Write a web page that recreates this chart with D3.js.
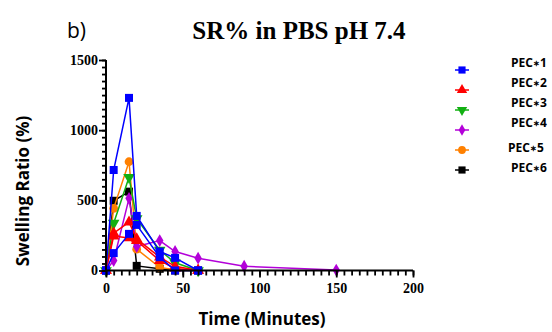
<!DOCTYPE html>
<html>
<head>
<meta charset="utf-8">
<script src="https://cdn.jsdelivr.net/npm/d3@7/dist/d3.min.js"></script>
<style>
  body { margin: 0; background: #fff; }
</style>
</head>
<body>
<div id="chart"></div>
<script>
// time points (minutes)
const tShort = [0, 5, 15, 20, 35, 45, 60];
const tLong = [0, 5, 15, 20, 35, 45, 60, 90, 150];

// swelling ratio (%)
const pec1 = [0, 716, 1230, 389, 135, 90, 0];
const pec1b = [0, 124, 261, 325, 95, 0, 0];
const pec2 = [0, 266, 345, 225, 95, 30, 0];
const pec2b = [0, 245, 232, 212, 70, 15, 0];
const pec3 = [0, 337, 664, 370, 145, 55, 0];
const pec4 = [0, 71, 514, 171, 213, 135, 88, 30, 3];
const pec5 = [0, 443, 775, 152, 22, 5, 0];
const pec6 = [0, 497, 562, 33, 12, 0, 0];

const legendNums = ["1", "2", "3", "4", "5", "6"];
const yTicks = [0, 500, 1000, 1500];
const xTicks = [0, 50, 100, 150, 200];

const width = 552, height = 332;
const svg = d3.select("#chart").append("svg")
    .attr("width", width)
    .attr("height", height);

const x = d3.scaleLinear().domain([0, 200]).range([106, 413]);
const y = d3.scaleLinear().domain([0, 1500]).range([270.5, 60]);

// series, drawn back to front
const styles = {
    blue:   { color: "#0000ff", shape: d3.symbolSquare, size: 64, rot: 0 },
    red:    { color: "#ff0000", shape: d3.symbolTriangle, size: 58, rot: 0 },
    green:  { color: "#12b012", shape: d3.symbolTriangle, size: 58, rot: 180 },
    purple: { color: "#b300d9", shape: d3.symbolDiamond, size: 48, rot: 0 },
    orange: { color: "#ff8000", shape: d3.symbolCircle, size: 60, rot: 0 },
    black:  { color: "#000000", shape: d3.symbolSquare, size: 64, rot: 0 }
};
const series = [
    { t: tShort, v: pec6, s: styles.black },
    { t: tShort, v: pec5, s: styles.orange },
    { t: tLong,  v: pec4, s: styles.purple },
    { t: tShort, v: pec3, s: styles.green },
    { t: tShort, v: pec2b, s: styles.red },
    { t: tShort, v: pec2, s: styles.red },
    { t: tShort, v: pec1b, s: styles.blue },
    { t: tShort, v: pec1, s: styles.blue }
];

const line = d3.line().x(d => x(d[0])).y(d => y(d[1]));

series.forEach(ser => {
    const pts = ser.t.map((t, i) => [t, ser.v[i]]);
    const g = svg.append("g");
    g.append("path")
        .attr("d", line(pts))
        .attr("fill", "none")
        .attr("stroke", ser.s.color)
        .attr("stroke-width", 1.5);
    g.selectAll("path.pt")
        .data(pts)
        .enter()
        .append("path")
        .attr("class", "pt")
        .attr("d", d3.symbol().type(ser.s.shape).size(ser.s.size))
        .attr("transform", d => `translate(${x(d[0])},${y(d[1])}) rotate(${ser.s.rot})`)
        .attr("fill", ser.s.color);
});

// axes
const yAxis = svg.append("g").attr("transform", "translate(106,0)");
yAxis.append("g")
    .call(d3.axisLeft(y).tickValues(d3.range(0, 1501, 50)).tickSize(4).tickFormat(""))
    .call(g => g.select(".domain").remove());
yAxis.append("g")
    .call(d3.axisLeft(y).tickValues(yTicks).tickSize(7).tickPadding(1).tickFormat(d3.format("d")))
    .call(g => g.select(".domain").attr("stroke-width", 2).attr("d", `M0,${y(1500)}V${y(0)}`));
yAxis.selectAll("line").attr("stroke-width", 1.8);

const xAxis = svg.append("g").attr("transform", `translate(0,${y(0)})`);
xAxis.append("g")
    .call(d3.axisBottom(x).tickValues(d3.range(0, 201, 5)).tickSize(5).tickFormat(""))
    .call(g => g.select(".domain").remove());
xAxis.append("g")
    .call(d3.axisBottom(x).tickValues(xTicks).tickSize(7).tickPadding(6).tickFormat(d3.format("d")))
    .call(g => g.select(".domain").attr("stroke-width", 2).attr("d", `M${x(0)},0H${x(200)}`));
xAxis.selectAll("line").attr("stroke-width", 1.8);

svg.selectAll(".tick text")
    .style("font-family", "'Liberation Serif', 'Times New Roman', serif")
    .style("font-weight", "900")
    .style("font-size", "14px")
    .style("fill", "#000");

// titles
svg.append("text")
    .attr("x", 67).attr("y", 38)
    .attr("font-family", "'Open Sans', sans-serif")
    .attr("font-size", 21)
    .text("b)");
svg.append("text")
    .attr("x", 299).attr("y", 39)
    .attr("text-anchor", "middle")
    .attr("font-family", "'Liberation Serif', serif")
    .attr("font-weight", "bold")
    .attr("font-size", 25)
    .text("SR% in PBS pH 7.4");
svg.append("text")
    .attr("x", 262).attr("y", 325)
    .attr("text-anchor", "middle")
    .attr("font-family", "'Open Sans', sans-serif")
    .attr("font-weight", "bold")
    .attr("font-size", 17)
    .text("Time (Minutes)");
svg.append("text")
    .attr("transform", "translate(29,191) rotate(-90)")
    .attr("text-anchor", "middle")
    .attr("font-family", "'Open Sans', sans-serif")
    .attr("font-weight", "bold")
    .attr("font-size", 17)
    .text("Swelling Ratio (%)");

// legend
const legendStyles = [styles.blue, styles.red, styles.green, styles.purple, styles.orange, styles.black];
const legend = svg.append("g");
legendNums.forEach((n, i) => {
    const s = legendStyles[i];
    const ly = 70 + i * 20;
    legend.append("line")
        .attr("x1", 455).attr("x2", 469)
        .attr("y1", ly).attr("y2", ly)
        .attr("stroke", s.color).attr("stroke-width", 1.5);
    legend.append("path")
        .attr("d", d3.symbol().type(s.shape).size(s.size * 0.8))
        .attr("transform", `translate(462,${ly}) rotate(${s.rot})`)
        .attr("fill", s.color);
    const txt = legend.append("text")
        .attr("x", i === 4 ? 508 : 511)
        .attr("y", ly - (i < 4 ? 3 : -2))
        .attr("font-family", "'Open Sans', sans-serif")
        .attr("font-weight", "bold")
        .attr("font-size", 12);
    txt.append("tspan").text("PEC");
    txt.append("tspan").attr("font-size", 8).attr("dy", -1).text("\u2217");
    txt.append("tspan").attr("dy", 1).text(n);
});
</script>
</body>
</html>
